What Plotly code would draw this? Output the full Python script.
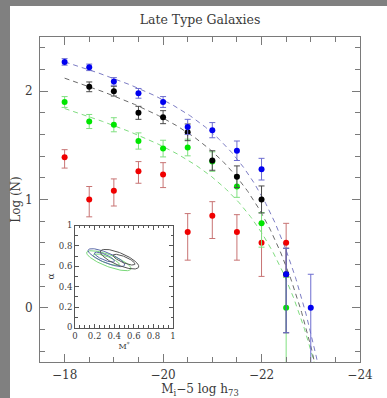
import numpy as np
import plotly.graph_objects as go

# Absolute magnitude bins (M_i - 5 log h_73) and log(N) with asymmetric errors
blue_mag = [-18.0, -18.5, -19.0, -19.5, -20.0, -20.5, -21.0, -21.5, -22.0, -22.5, -23.0]
blue_logn = [2.27, 2.22, 2.09, 1.98, 1.90, 1.67, 1.64, 1.45, 1.28, 0.31, 0.0]
blue_up = [0.03, 0.03, 0.035, 0.045, 0.05, 0.07, 0.07, 0.09, 0.10, 0.24, 0.31]
blue_dn = [0.03, 0.03, 0.035, 0.045, 0.05, 0.07, 0.07, 0.09, 0.10, 0.54, 2.0]

black_mag = [-18.5, -19.0, -19.5, -20.0, -20.5, -21.0, -21.5, -22.0, -22.5]
black_logn = [2.04, 2.00, 1.80, 1.76, 1.62, 1.36, 1.21, 1.00, 0.31]
black_up = [0.045, 0.045, 0.06, 0.06, 0.077, 0.09, 0.10, 0.125, 0.24]
black_dn = [0.045, 0.045, 0.06, 0.06, 0.077, 0.09, 0.10, 0.125, 0.54]

green_mag = [-18.0, -18.5, -19.0, -19.5, -20.0, -20.5, -21.0, -21.5, -22.0, -22.5]
green_logn = [1.90, 1.72, 1.69, 1.54, 1.47, 1.48, 1.35, 1.12, 0.78, 0.0]
green_up = [0.05, 0.065, 0.065, 0.075, 0.077, 0.077, 0.09, 0.10, 0.10, 0.28]
green_dn = [0.05, 0.065, 0.065, 0.075, 0.077, 0.077, 0.09, 0.10, 0.22, 2.0]

red_mag = [-18.0, -18.5, -19.0, -19.5, -20.0, -20.5, -21.0, -21.5, -22.0, -22.5]
red_logn = [1.39, 1.00, 1.08, 1.26, 1.23, 0.70, 0.85, 0.70, 0.60, 0.60]
red_up = [0.07, 0.12, 0.11, 0.09, 0.11, 0.17, 0.13, 0.16, 0.18, 0.18]
red_dn = [0.10, 0.16, 0.14, 0.11, 0.12, 0.26, 0.21, 0.26, 0.31, 0.31]

# Schechter fit parameters: (log amplitude, M*, alpha+1)
fit_blue = (1.865, -21.4, -0.312)
fit_black = (1.669, -21.45, -0.34)
fit_green = (1.376, -21.6, -0.333)

# Confidence contours in the (M*, alpha) plane: centre x, centre y, semi-axes, tilt (deg)
ell_green = [(0.345, 0.655, 0.24, 0.058, -20), (0.32, 0.665, 0.14, 0.032, -20)]
ell_blue = [(0.32, 0.685, 0.20, 0.05, -22), (0.30, 0.69, 0.11, 0.028, -22)]
ell_black = [(0.455, 0.67, 0.21, 0.06, -22), (0.50, 0.665, 0.12, 0.03, -22)]

SERIF = "DejaVu Serif"
TXT = "#3a3a3a"
FRAME = "#7a7a7a"
INSET = "#555555"


def schechter_log(M, amp, mstar, s):
    u = 0.4 * (mstar - M)
    return amp + s * u - 10 ** u / np.log(10)


def ellipse(cx, cy, a, b, ang, n=120):
    t = np.linspace(0, 2 * np.pi, n)
    th = np.radians(ang)
    x = cx + a * np.cos(t) * np.cos(th) - b * np.sin(t) * np.sin(th)
    y = cy + a * np.cos(t) * np.sin(th) + b * np.sin(t) * np.cos(th)
    return x, y


fig = go.Figure()

Mgrid = np.linspace(-18.0, -23.6, 400)
for fit, col in [(fit_green, "#7fdc7f"), (fit_black, "#6a6a6a"), (fit_blue, "#7c7cc4")]:
    fig.add_trace(go.Scatter(x=Mgrid, y=schechter_log(Mgrid, *fit), mode="lines",
                             line=dict(color=col, width=1, dash="5px,4px"),
                             hoverinfo="skip", showlegend=False))

series = [
    (red_mag, red_logn, red_up, red_dn, "#f00000", "#c87474"),
    (green_mag, green_logn, green_up, green_dn, "#00e600", "#80e080"),
    (black_mag, black_logn, black_up, black_dn, "#000000", "#4a4a4a"),
    (blue_mag, blue_logn, blue_up, blue_dn, "#0000f0", "#6c6cd0"),
]
for xs, ys, up, dn, mc, ec in series:
    fig.add_trace(go.Scatter(
        x=xs, y=ys, mode="markers",
        marker=dict(color=mc, size=6),
        error_y=dict(type="data", symmetric=False, array=up, arrayminus=dn,
                     color=ec, thickness=1, width=3),
        showlegend=False))

for ells, col in [(ell_green, "#78d878"), (ell_blue, "#5a6aa8"), (ell_black, "#555555")]:
    for e in ells:
        ex, ey = ellipse(*e)
        fig.add_trace(go.Scatter(x=ex, y=ey, mode="lines", xaxis="x2", yaxis="y2",
                                 line=dict(color=col, width=1), hoverinfo="skip",
                                 showlegend=False))

W, H = 387, 398
L, R, T, B = 40, 27, 37, 36
pw, ph = W - L - R, H - T - B


def px_x(px):
    return (px - L) / pw


def px_y(py):
    return (H - B - py) / ph


# grey page border along the left and top edges
border = [
    dict(type="rect", xref="paper", yref="paper", layer="below",
         x0=px_x(0), x1=px_x(10), y0=px_y(H), y1=px_y(0),
         fillcolor="#808080", line=dict(width=0)),
    dict(type="rect", xref="paper", yref="paper", layer="below",
         x0=px_x(0), x1=px_x(W), y0=px_y(6), y1=px_y(0),
         fillcolor="#808080", line=dict(width=0)),
]

fig.update_layout(
    width=W, height=H,
    margin=dict(l=L, r=R, t=T, b=B, autoexpand=False),
    paper_bgcolor="white",
    plot_bgcolor="white",
    font=dict(family=SERIF, color=TXT, size=12),
    title=dict(text="Late Type Galaxies", x=0.5, xref="paper", xanchor="center",
               y=1 - 20 / H, yanchor="middle", font=dict(size=12.5, family=SERIF, color=TXT)),
    shapes=border,
    xaxis=dict(range=[-17.5, -24], tickmode="linear", tick0=-18, dtick=2,
               ticks="inside", ticklen=8, tickcolor=FRAME, showline=True,
               linecolor=FRAME, mirror="ticks", showgrid=False, zeroline=False,
               automargin=False,
               tickformat="d", tickfont=dict(size=12), ticklabelstandoff=2,
               minor=dict(dtick=0.5, tick0=-18, ticks="inside", ticklen=5, tickcolor=FRAME),
               title=dict(text="M<sub>i</sub>−5 log h<sub>73</sub>", standoff=3,
                          font=dict(size=12))),
    yaxis=dict(range=[-0.5, 2.5], tickmode="linear", tick0=0, dtick=1,
               ticks="inside", ticklen=8, tickcolor=FRAME, showline=True,
               linecolor=FRAME, mirror="ticks", showgrid=False, zeroline=False,
               automargin=False,
               tickfont=dict(size=12), ticklabelstandoff=4,
               minor=dict(dtick=0.2, tick0=0, ticks="inside", ticklen=5, tickcolor=FRAME),
               title=dict(text="Log (N)", standoff=1, font=dict(size=12))),
    xaxis2=dict(domain=[px_x(75), px_x(173)], anchor="y2", range=[0, 1],
                tickmode="linear", tick0=0, dtick=0.2, ticks="inside", ticklen=4,
                tickcolor=INSET, showline=True, linecolor=INSET, mirror="ticks",
                showgrid=False, zeroline=False, automargin=False,
                tickfont=dict(size=8.5),
                minor=dict(dtick=0.05, ticks="inside", ticklen=2.5, tickcolor=INSET),
                title=dict(text="M<sup>*</sup>", standoff=3, font=dict(size=8))),
    yaxis2=dict(domain=[px_y(327.5), px_y(225.5)], anchor="x2",
                range=[0, 1], tickmode="linear", tick0=0, dtick=0.2, ticks="inside",
                ticklen=4, tickcolor=INSET, showline=True, linecolor=INSET,
                mirror="ticks", showgrid=False, zeroline=False, automargin=False,
                tickfont=dict(size=8.5),
                minor=dict(dtick=0.1, ticks="inside", ticklen=2.5, tickcolor=INSET),
                title=dict(text="α", standoff=2, font=dict(size=9))),
)

fig.write_html("out.html")
